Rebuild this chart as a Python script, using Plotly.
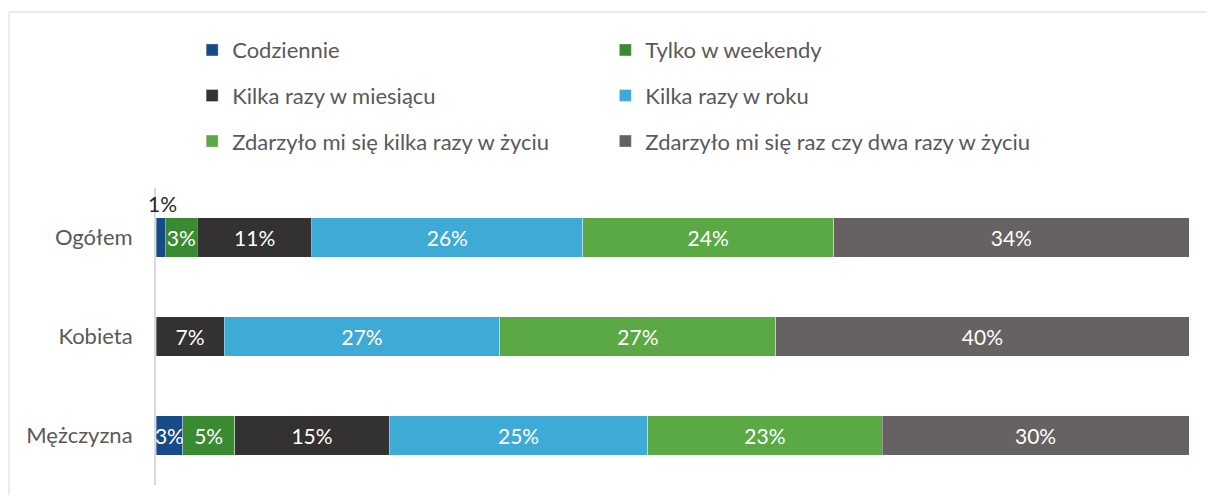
import plotly.graph_objects as go

categories = ["Ogółem", "Kobieta", "Mężczyzna"]
series_names = [
    "Codziennie",
    "Tylko w weekendy",
    "Kilka razy w miesiącu",
    "Kilka razy w roku",
    "Zdarzyło mi się kilka razy w życiu",
    "Zdarzyło mi się raz czy dwa razy w życiu",
]
codziennie = [0.9, 0.0, 2.6]
weekendy = [3.1, 0.0, 5.0]
miesiac = [11.1, 6.6, 15.0]
rok = [26.2, 26.7, 25.0]
kilka_zycie = [24.3, 26.7, 22.7]
raz_dwa = [34.4, 40.0, 29.7]
series_values = [codziennie, weekendy, miesiac, rok, kilka_zycie, raz_dwa]
colors = ["#184a88", "#3a8a32", "#333132", "#3eaad6", "#5aa945", "#666162"]
legend_ids = ["legend", "legend2", "legend", "legend2", "legend", "legend2"]

FONT = "Lato"
FS = 21
FS_TXT = 22

fig = go.Figure()
for i, (name, vals) in enumerate(zip(series_names, series_values)):
    labels = [f"{round(v)}%" if v >= 2 else "" for v in vals]
    fig.add_trace(go.Bar(
        name=name, y=categories, x=vals, orientation="h",
        marker=dict(color=colors[i], line=dict(color="rgba(255,255,255,0.35)", width=1)),
        text=labels, textposition="inside", insidetextanchor="middle",
        constraintext="none", textangle=0, cliponaxis=False,
        textfont=dict(color="white", size=FS, family=FONT),
        legend=legend_ids[i], legendgroup=name, hoverinfo="skip",
    ))

# small label above tiny segments
annotations = []
for ci, cat in enumerate(categories):
    cum = 0
    for vals in series_values:
        v = vals[ci]
        if 0 < v < 2:
            annotations.append(dict(x=cum + v / 2, y=cat, xref="x", yref="y",
                                    text=f"{round(v)}%", showarrow=False, yshift=34, xshift=2,
                                    font=dict(size=FS, color="#262626", family=FONT)))
        cum += v

border = dict(color="#d9d9d9", width=1)
fig.update_layout(
    barmode="stack",
    bargap=0.6,
    width=1199, height=487,
    margin=dict(l=148, r=18, t=180, b=10),
    paper_bgcolor="white", plot_bgcolor="white",
    font=dict(family=FONT, size=FS, color="#595959"),
    annotations=annotations,
    legend=dict(x=0.035, y=1.535, xanchor="left", yanchor="top", orientation="v",
                tracegroupgap=14, font=dict(size=FS_TXT, color="#595959", family=FONT),
                bgcolor="rgba(0,0,0,0)"),
    legend2=dict(x=0.435, y=1.535, xanchor="left", yanchor="top", orientation="v",
                 tracegroupgap=14, font=dict(size=FS_TXT, color="#595959", family=FONT),
                 bgcolor="rgba(0,0,0,0)"),
    xaxis=dict(range=[0, 100], showgrid=False, showticklabels=False, zeroline=False,
               showline=False, fixedrange=True),
    yaxis=dict(autorange="reversed", showgrid=False, zeroline=False, showline=True,
               linecolor="#d9d9d9", linewidth=2, ticks="", ticklabelstandoff=17,
               tickfont=dict(size=FS_TXT, color="#595959", family=FONT)),
    shapes=[
        dict(type="line", xref="paper", yref="paper", x0=-0.1423, x1=1.1,
             y0=1.5926, y1=1.5926, line=border, layer="below"),
        dict(type="line", xref="paper", yref="paper", x0=-0.1423, x1=-0.1423,
             y0=-0.2, y1=1.5926, line=border, layer="below"),
    ],
)

fig.write_html("out.html")
